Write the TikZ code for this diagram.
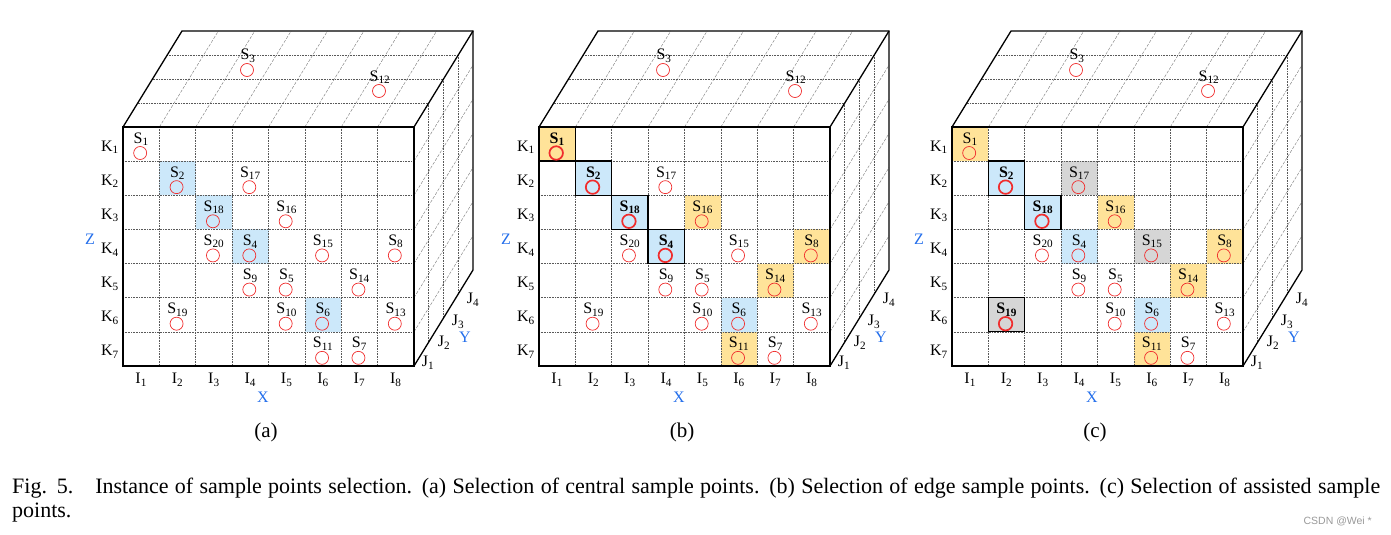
\documentclass[tikz,border=0pt]{standalone}
\usepackage{fontspec}
\setmainfont{Liberation Serif}
\setsansfont{Liberation Sans}
\usepackage{xcolor}
\usepackage{tikz}
\usetikzlibrary{calc}

\definecolor{cellblue}{RGB}{204,232,250}
\definecolor{cellgold}{RGB}{255,227,153}
\definecolor{cellgray}{RGB}{214,214,214}
\definecolor{axisblue}{RGB}{35,110,235}
\definecolor{ptred}{RGB}{240,45,45}

\def\cw{36.375}
\def\rh{34.14}

\tikzset{
	frameline/.style={line width=1.3pt},
	gridline/.style={densely dotted,line width=0.6pt,black!65},
	slantline/.style={dash pattern=on 3pt off 1.5pt,line width=0.45pt,black!50},
	ptcircle/.style={circle,draw=ptred,line width=0.7pt,minimum size=13pt,inner sep=0pt},
	ptbold/.style={ptcircle,line width=1.7pt,minimum size=13.5pt},
	ptlabel/.style={inner sep=0pt,font=\fontsize{16}{16}\selectfont},
	axisname/.style={inner sep=0pt,text=axisblue,font=\fontsize{16}{16}\selectfont},
	boldbox/.style={line width=1.3pt},
}

\def\cellfill#1#2#3{
	\fill[#1] ({(#2-1)*\cw},{(#3-1)*\rh}) rectangle ({#2*\cw},{#3*\rh});
	}
\def\spoint#1#2#3#4{
	\node[ptcircle] (#1c#4) at ({(#2-0.5)*\cw-1},{(#3-1)*\rh+26}) {};
	\node[ptlabel] (#1s#4) at ({(#2-0.5)*\cw},{(#3-1)*\rh+12}) {S\textsubscript{#4}};
	}
\def\bpoint#1#2#3#4{
	\draw[boldbox] ({(#2-1)*\cw},{(#3-1)*\rh}) rectangle ({#2*\cw},{#3*\rh});
	\node[ptbold] (#1c#4) at ({(#2-0.5)*\cw-1},{(#3-1)*\rh+26}) {};
	\node[ptlabel] (#1s#4) at ({(#2-0.5)*\cw},{(#3-1)*\rh+12}) {\bfseries S\textsubscript{#4}};
	}
\def\cubegrid#1{
	\foreach \i in {1,...,7} \draw[slantline] ({\i*\cw},0)--({\i*\cw+59},-96);
	\foreach \k in {1,2,3} \draw[gridline] ({\k*14.75},{-\k*24})--({291+\k*14.75},{-\k*24});
	\foreach \j in {1,...,6} \draw[slantline] (291,{\j*\rh})--(350,{\j*\rh-96});
	\foreach \k in {1,2,3} \draw[gridline] ({291+\k*14.75},{-\k*24})--({291+\k*14.75},{239-\k*24});
	\foreach \i in {1,...,7} \draw[gridline] ({\i*\cw},0)--({\i*\cw},239);
	\foreach \j in {1,...,6} \draw[gridline] (0,{\j*\rh})--(291,{\j*\rh});
	\draw[frameline] (0,0) rectangle (291,239);
	\draw[frameline] (0,0)--(59,-96)--(350,-96)--(350,143)--(291,239);
	\draw[frameline] (291,0)--(350,-96);
	\foreach \j in {1,...,7} \node[ptlabel] (#1k\j) at (-13,{(\j-0.5)*\rh+3}) {K\textsubscript{\j}};
	\foreach \i in {1,...,8} \node[ptlabel] (#1i\i) at ({(\i-0.5)*\cw},253) {I\textsubscript{\i}};
	\foreach \k/\jx/\jy in {1/305/236,2/321/216,3/335/195,4/350/173}
		\node[ptlabel] (#1j\k) at (\jx,\jy) {J\textsubscript{\k}};
	\node[axisname] (#1x) at (140,270) {X};
	\node[axisname] (#1y) at (342,210) {Y};
	\node[axisname] (#1z) at (-33,112) {Z};
	\node[ptcircle] (#1c3) at (124,-57) {};
	\node[ptlabel] (#1s3) at (125,-71) {S\textsubscript{3}};
	\node[ptcircle] (#1c12) at (256,-36) {};
	\node[ptlabel] (#1s12) at (257,-50) {S\textsubscript{12}};
	\node[inner sep=0pt,font=\fontsize{21}{21}\selectfont] (#1cap) at (143,305) {(#1)};
	}

\begin{document}
\begin{tikzpicture}[x=1pt,y=-1pt]
	\useasboundingbox (0,0) rectangle (1391,535);
	\begin{scope}[shift={(123,127)}]
		\foreach \i/\k in {2/2,3/3,4/4,6/6} {\cellfill{cellblue}{\i}{\k}}
		\cubegrid{a}
		\foreach \i/\k/\n in {1/1/1,2/2/2,4/2/17,3/3/18,5/3/16,3/4/20,4/4/4,6/4/15,8/4/8,4/5/9,
			5/5/5,7/5/14,2/6/19,5/6/10,6/6/6,8/6/13,6/7/11,7/7/7} {\spoint{a}{\i}{\k}{\n}}
	\end{scope}
	\begin{scope}[shift={(539,127)}]
		\foreach \i/\k in {2/2,3/3,4/4,6/6} {\cellfill{cellblue}{\i}{\k}}
		\foreach \i/\k in {1/1,5/3,8/4,7/5,6/7} {\cellfill{cellgold}{\i}{\k}}
		\cubegrid{b}
		\foreach \i/\k/\n in {4/2/17,5/3/16,3/4/20,6/4/15,8/4/8,4/5/9,
			5/5/5,7/5/14,2/6/19,5/6/10,6/6/6,8/6/13,6/7/11,7/7/7} {\spoint{b}{\i}{\k}{\n}}
		\foreach \i/\k/\n in {1/1/1,2/2/2,3/3/18,4/4/4} {\bpoint{b}{\i}{\k}{\n}}
	\end{scope}
	\begin{scope}[shift={(952,127)}]
		\foreach \i/\k in {2/2,3/3,4/4,6/6} {\cellfill{cellblue}{\i}{\k}}
		\foreach \i/\k in {1/1,5/3,8/4,7/5,6/7} {\cellfill{cellgold}{\i}{\k}}
		\foreach \i/\k in {4/2,6/4,2/6} {\cellfill{cellgray}{\i}{\k}}
		\cubegrid{c}
		\foreach \i/\k/\n in {1/1/1,4/2/17,5/3/16,3/4/20,4/4/4,6/4/15,8/4/8,4/5/9,
			5/5/5,7/5/14,5/6/10,6/6/6,8/6/13,6/7/11,7/7/7} {\spoint{c}{\i}{\k}{\n}}
		\foreach \i/\k/\n in {2/2/2,3/3/18,2/6/19} {\bpoint{c}{\i}{\k}{\n}}
	\end{scope}
	\node[anchor=base west,inner sep=0pt,font=\fontsize{22}{24}\selectfont] (figcap) at (12,493)
		{\makebox[1368pt][s]{Fig. 5.\quad Instance of sample points selection. (a) Selection of central sample points. (b) Selection of edge sample points. (c) Selection of assisted sample}};
	\node[anchor=base west,inner sep=0pt,font=\fontsize{22}{24}\selectfont] (figcap2) at (12,517) {points.};
	\node[anchor=base east,inner sep=0pt,font=\fontsize{10.5}{11}\sffamily,text=black!40] (mark) at (1372,524) {CSDN @Wei *};
\end{tikzpicture}
\end{document}
